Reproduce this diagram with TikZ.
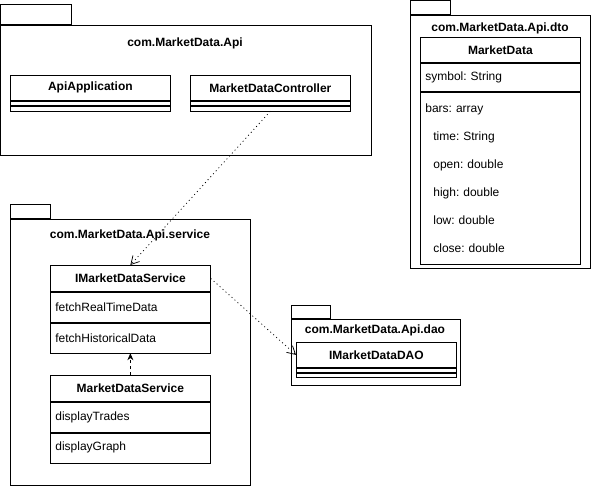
\documentclass[tikz,border=0pt]{standalone}
\usepackage{fontspec}
\setmainfont{Liberation Sans}
\usetikzlibrary{arrows.meta,positioning}
\frenchspacing

\begin{document}
\begin{tikzpicture}[x=1pt,y=-1pt,
      font=\fontsize{12}{14}\selectfont,
      pkg/.style={draw,line width=0.75pt,anchor=north west,inner sep=0pt},
      pkgtab/.style={draw,line width=0.75pt,inner sep=0pt},
      pkgtitle/.style={font=\fontsize{12}{14}\selectfont\bfseries},
      cls/.style={draw,line width=0.75pt,anchor=north west,minimum width=160pt,
                  minimum height=26pt,inner sep=0pt,font=\fontsize{12}{14}\selectfont\bfseries},
      sect/.style={draw,line width=0.75pt,minimum width=160pt,text width=150pt,
                   inner xsep=5pt,inner ysep=0pt,align=left,minimum height=30pt},
      cgap/.style={draw,line width=0.75pt,minimum width=160pt,minimum height=4pt,inner sep=0pt},
      dep/.style={-{Straight Barb[length=8pt,width=9pt]},line width=0.75pt,dash pattern=on 1pt off 3pt},
      impl/.style={-{Stealth[length=7pt,width=6pt]},line width=0.75pt,dash pattern=on 3pt off 3pt}]
    \useasboundingbox (0,0) rectangle (591,487);

    % packages
    \node[pkg,minimum width=370pt,minimum height=130pt] (apiPkg) at (0.5,25) {};
    \node[pkgtab,minimum width=70pt,minimum height=20pt,above right=0pt of apiPkg.north west] (apiTab) {};
    \node[pkgtitle] (apiTitle) at (185,43) {com.MarketData.Api};

    \node[pkg,minimum width=180pt,minimum height=253pt] (dtoPkg) at (410,15) {};
    \node[pkgtab,minimum width=40pt,minimum height=14pt,above right=0pt of dtoPkg.north west] (dtoTab) {};
    \node[pkgtitle] (dtoTitle) at (500,28) {com.MarketData.Api.dto};

    \node[pkg,minimum width=240pt,minimum height=266pt] (svcPkg) at (10,219) {};
    \node[pkgtab,minimum width=40pt,minimum height=14pt,above right=0pt of svcPkg.north west] (svcTab) {};
    \node[pkgtitle] (svcTitle) at (130,235) {com.MarketData.Api.service};

    \node[pkg,minimum width=169pt,minimum height=66pt] (daoPkg) at (291,319) {};
    \node[pkgtab,minimum width=39pt,minimum height=13pt,above right=0pt of daoPkg.north west] (daoTab) {};
    \node[pkgtitle] (daoTitle) at (375,330) {com.MarketData.Api.dao};

    % classes
    \node[cls,minimum height=25pt] (app) at (10,75) {ApiApplication};
    \node[cgap,below=0pt of app] (appA) {};
    \node[cgap,below=0pt of appA,minimum height=5pt] (appB) {};

    \node[cls,minimum height=25pt] (ctrl) at (190,75) {MarketDataController};
    \node[cgap,below=0pt of ctrl] (ctrlA) {};
    \node[cgap,below=0pt of ctrlA,minimum height=5pt] (ctrlB) {};

    \node[cls,minimum height=25pt] (md) at (420,37) {MarketData};
    \node[sect,below=0pt of md,minimum height=28pt] (mdA) {symbol: String};
    \node[sect,below=0pt of mdA,minimum height=172pt,font=\fontsize{12}{28}\selectfont] (mdB)
      {bars: array\\ \hspace*{8pt}time: String\\ \hspace*{8pt}open: double\\
       \hspace*{8pt}high: double\\ \hspace*{8pt}low: double\\ \hspace*{8pt}close: double};

    \node[cls] (svc) at (50,265) {IMarketDataService};
    \node[sect,below=0pt of svc] (svcA) {fetchRealTimeData};
    \node[sect,below=0pt of svcA] (svcB) {fetchHistoricalData};

    \node[cls] (mds) at (50,375) {MarketDataService};
    \node[sect,below=0pt of mds] (mdsA) {displayTrades};
    \node[sect,below=0pt of mdsA] (mdsB) {displayGraph};

    \node[cls,minimum height=25pt] (dao) at (296,342) {IMarketDataDAO};
    \node[cgap,below=0pt of dao] (daoA) {};
    \node[cgap,below=0pt of daoA] (daoB) {};

    % relations
    \draw[dep] (ctrlB.south) -- (svc.north);
    \draw[dep] (svc.east) -- (dao.west);
    \draw[impl] (mds.north) -- (svcB.south);
  \end{tikzpicture}
\end{document}
